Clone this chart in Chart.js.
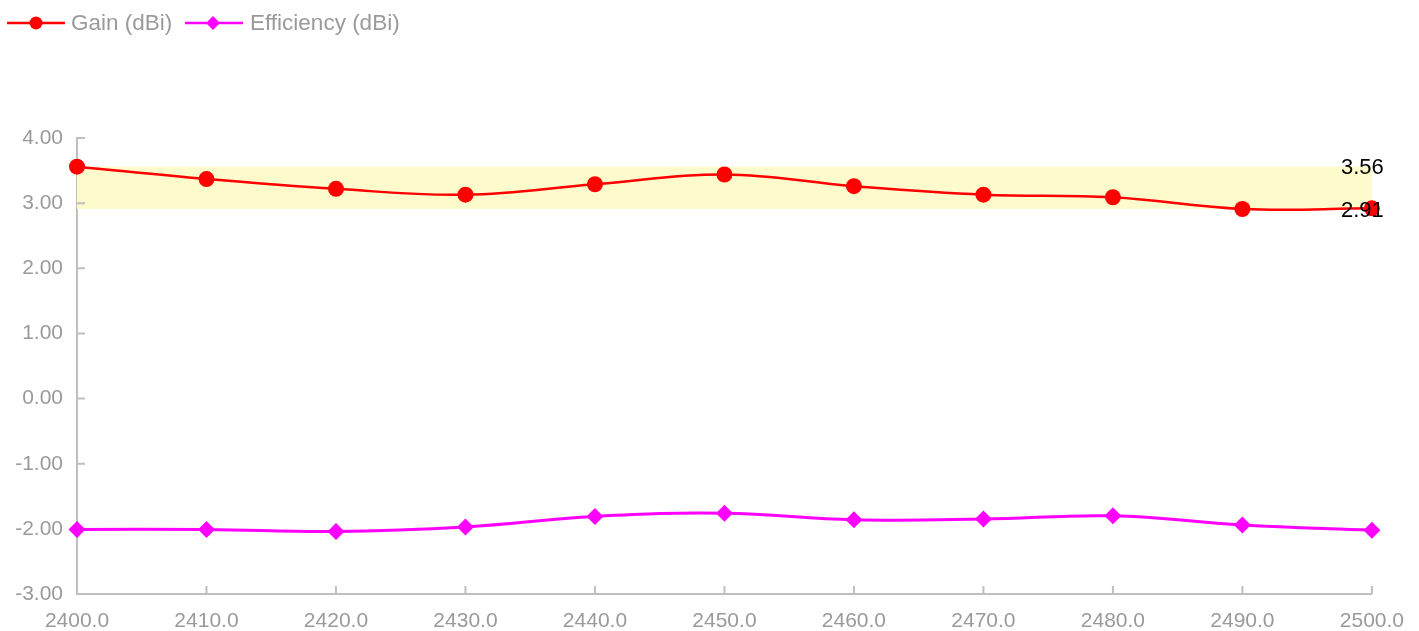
<!DOCTYPE html>
<html>
<head>
<meta charset="utf-8">
<script src="https://cdn.jsdelivr.net/npm/chart.js@4.4.1/dist/chart.umd.min.js"></script>
<style>
  body { margin: 0; background: #fff; }
  #wrap { position: relative; width: 1419px; height: 631px; }
  #legend { position: absolute; left: 0; top: 9px; font-family: "Liberation Sans", Arial, sans-serif; font-size: 22.5px; color: #9a9a9a; }
  .item { position: absolute; top: 0; white-space: nowrap; }
  .item svg { position: absolute; top: 0; }
  .item span { position: absolute; top: 1px; }
</style>
</head>
<body>
<div id="wrap">
  <canvas id="chart" width="1419" height="631"></canvas>
  <div id="legend"></div>
</div>
<script>
// frequency (MHz)
var freqs = [2400, 2410, 2420, 2430, 2440, 2450, 2460, 2470, 2480, 2490, 2500];
var gain = [3.56, 3.37, 3.22, 3.13, 3.29, 3.44, 3.26, 3.13, 3.09, 2.91, 2.92];
var efficiency = [-2.01, -2.01, -2.04, -1.97, -1.81, -1.76, -1.86, -1.85, -1.80, -1.94, -2.02];
var seriesNames = ['Gain (dBi)', 'Efficiency (dBi)'];
var seriesColors = ['#ff0000', '#ff00ff'];

var gainMax = Math.max.apply(null, gain);
var gainMin = Math.min.apply(null, gain);

function toPoints(vals) {
  return freqs.map(function(f, i) { return {x: f, y: vals[i]}; });
}

// legend, drawn as html like the original
var legendPos = [{line: 7, text: 71}, {line: 185, text: 250}];
var legend = document.getElementById('legend');
seriesNames.forEach(function(name, i) {
  var c = seriesColors[i];
  var marker = i === 0
    ? '<circle cx="29" cy="14" r="6.5" fill="' + c + '"/>'
    : '<polygon points="28,7 35,14 28,21 21,14" fill="' + c + '"/>';
  var div = document.createElement('div');
  div.className = 'item';
  div.style.left = legendPos[i].line + 'px';
  div.innerHTML = '<svg width="58" height="28"><line x1="0" y1="14" x2="58" y2="14" stroke="' + c + '" stroke-width="2.5"/>' + marker + '</svg>' +
    '<span style="left:' + (legendPos[i].text - legendPos[i].line) + 'px">' + name + '</span>';
  legend.appendChild(div);
});

var axisGrey = '#bfbfbf';

// yellow band between min and max gain, plus labels and inner tick marks
var bandPlugin = {
  id: 'band',
  beforeDatasetsDraw: function(chart) {
    var ctx = chart.ctx, area = chart.chartArea, y = chart.scales.y;
    var top = y.getPixelForValue(gainMax), bottom = y.getPixelForValue(gainMin);
    ctx.save();
    ctx.fillStyle = '#fdfbcb';
    ctx.fillRect(area.left, top, area.right - area.left, bottom - top);
    // inner ticks
    ctx.strokeStyle = axisGrey;
    ctx.lineWidth = 2;
    ctx.beginPath();
    chart.scales.y.ticks.forEach(function(t) {
      var py = y.getPixelForValue(t.value);
      if (t.value === y.min) return;
      ctx.moveTo(area.left, py); ctx.lineTo(area.left + 8, py);
    });
    chart.scales.x.ticks.forEach(function(t) {
      var px = chart.scales.x.getPixelForValue(t.value);
      if (t.value === chart.scales.x.min) return;
      ctx.moveTo(px, area.bottom); ctx.lineTo(px, area.bottom - 8);
    });
    ctx.stroke();
    ctx.restore();
  },
  afterDatasetsDraw: function(chart) {
    var ctx = chart.ctx, y = chart.scales.y;
    ctx.save();
    ctx.fillStyle = '#000';
    ctx.font = '22px "Liberation Sans", Arial, sans-serif';
    ctx.textBaseline = 'middle';
    ctx.textAlign = 'left';
    ctx.fillText(gainMax.toFixed(2), 1341, y.getPixelForValue(gainMax) + 1);
    ctx.fillText(gainMin.toFixed(2), 1341, y.getPixelForValue(gainMin) + 2);
    ctx.restore();
  }
};

var tickFont = {family: '"Liberation Sans", Arial, sans-serif', size: 21};

new Chart(document.getElementById('chart'), {
  type: 'line',
  data: {
    datasets: [{
      label: seriesNames[0],
      data: toPoints(gain),
      borderColor: seriesColors[0],
      backgroundColor: seriesColors[0],
      borderWidth: 2.5,
      pointStyle: 'circle',
      pointRadius: 8,
      pointBorderWidth: 0,
      tension: 0.4,
      clip: false
    }, {
      label: seriesNames[1],
      data: toPoints(efficiency),
      borderColor: seriesColors[1],
      backgroundColor: seriesColors[1],
      borderWidth: 3,
      pointStyle: 'rectRot',
      pointRadius: 8.5,
      pointBorderWidth: 0,
      tension: 0.4,
      clip: false
    }]
  },
  options: {
    responsive: false,
    animation: false,
    layout: {
      padding: {top: 138, right: 46, left: 0, bottom: 0}
    },
    plugins: {
      legend: {display: false},
      tooltip: {enabled: false}
    },
    scales: {
      x: {
        type: 'linear',
        min: 2400,
        max: 2500,
        afterFit: function(s) { s.height = 37; },
        ticks: {
          stepSize: 10,
          padding: 15,
          color: '#9a9a9a',
          font: tickFont,
          maxRotation: 0,
          callback: function(v) { return v.toFixed(1); }
        },
        grid: {drawOnChartArea: false, drawTicks: false},
        border: {color: axisGrey, width: 2}
      },
      y: {
        min: -3,
        max: 4,
        afterFit: function(s) { s.width = 77; },
        ticks: {
          stepSize: 1,
          padding: 14,
          color: '#9a9a9a',
          font: tickFont,
          callback: function(v) { return v.toFixed(2); }
        },
        grid: {drawOnChartArea: false, drawTicks: false},
        border: {color: axisGrey, width: 2}
      }
    }
  },
  plugins: [bandPlugin]
});
</script>
</body>
</html>
